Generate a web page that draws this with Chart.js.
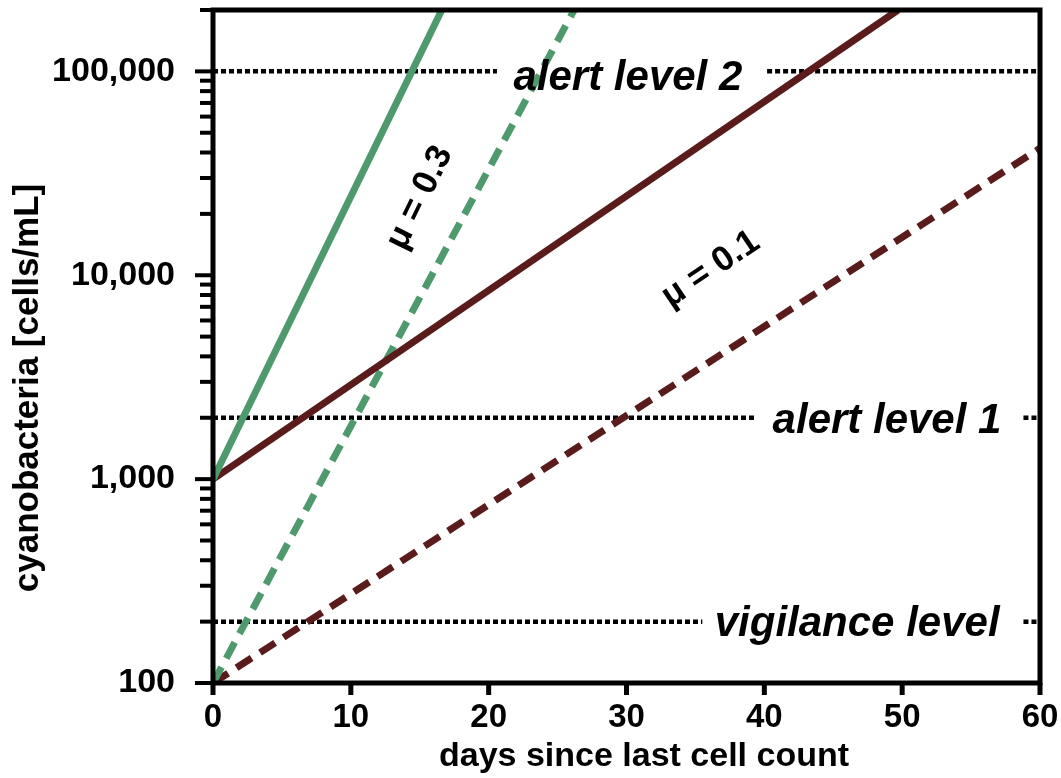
<!DOCTYPE html>
<html lang="en">
<head>
  <meta charset="UTF-8">
  <title>Cyanobacteria growth</title>
  <script src="https://cdn.jsdelivr.net/npm/chart.js"></script>
  <style>
    body { margin: 0; background: #fff; }
    #wrap { width: 1061px; height: 778px; }
  </style>
</head>
<body>
  <div id="wrap"><canvas id="myChart" width="1061" height="778"></canvas></div>

  <script>
    // line end points (days, cells/mL)
    const greenSolidDays = [0, 16.6];
    const greenSolidCells = [1000, 200000];
    const greenDashedDays = [0, 26.2];
    const greenDashedCells = [100, 200000];
    const brownSolidDays = [0, 49.7];
    const brownSolidCells = [1000, 200000];
    const brownDashedDays = [0, 60];
    const brownDashedCells = [100, 42000];

    // threshold levels and where their dotted lines run
    const levelValues = [100000, 2000, 200];
    const levelNames = ['alert level 2', 'alert level 1', 'vigilance level'];
    const levelSegments = [
      [[0, 20.6], [40.2, 60]],
      [[0, 39.3], [58.8, 60]],
      [[0, 35.5], [58.8, 60]]
    ];

    const xTickValues = [0, 10, 20, 30, 40, 50, 60];
    const yMajorTicks = [100, 1000, 10000, 100000];
    const yMin = 100, yMax = 200000;

    const muLabels = ['\u03bc = 0.3', '\u03bc = 0.1'];

    const GREEN = '#4f9a6d';
    const BROWN = '#5a1b1b';
    const FONT = '"Liberation Sans", Arial, sans-serif';

    function toPoints(xs, ys) {
      return xs.map((x, i) => ({ x: x, y: ys[i] }));
    }

    function levelPoints(value, segs) {
      const pts = [];
      segs.forEach((s, i) => {
        if (i > 0) pts.push({ x: (segs[i - 1][1] + s[0]) / 2, y: null });
        pts.push({ x: s[0], y: value });
        pts.push({ x: s[1], y: value });
      });
      return pts;
    }

    const datasets = [
      { data: toPoints(greenSolidDays, greenSolidCells), borderColor: GREEN, borderWidth: 7 },
      { data: toPoints(brownSolidDays, brownSolidCells), borderColor: BROWN, borderWidth: 7 },
      { data: toPoints(greenDashedDays, greenDashedCells), borderColor: GREEN, borderWidth: 7, borderDash: [18, 10] },
      { data: toPoints(brownDashedDays, brownDashedCells), borderColor: BROWN, borderWidth: 7, borderDash: [18, 10] }
    ];
    levelValues.forEach((v, i) => {
      datasets.push({
        data: levelPoints(v, levelSegments[i]),
        borderColor: '#000',
        borderWidth: 4.5,
        borderDash: [5, 3],
        spanGaps: false
      });
    });
    datasets.forEach(d => {
      d.pointRadius = 0;
      d.tension = 0;
      d.fill = false;
      d.borderCapStyle = 'butt';
    });

    function noPadding(s) {
      s.paddingTop = 0;
      s.paddingBottom = 0;
      s.paddingLeft = 0;
      s.paddingRight = 0;
    }

    const decorPlugin = {
      id: 'decor',
      afterDatasetsDraw(chart) {
        const ctx = chart.ctx;
        const xs = chart.scales.x, ys = chart.scales.y;
        const a = chart.chartArea;
        ctx.save();

        // level labels
        ctx.fillStyle = '#000';
        ctx.font = 'italic bold 42px ' + FONT;
        ctx.textAlign = 'left';
        ctx.textBaseline = 'alphabetic';
        const labelStart = [21.8, 40.6, 36.4];
        const labelDrop = [19, 15, 14];
        levelNames.forEach((n, i) => {
          ctx.fillText(n, xs.getPixelForValue(labelStart[i]), ys.getPixelForValue(levelValues[i]) + labelDrop[i]);
        });

        // growth rate labels
        ctx.font = 'bold 35px ' + FONT;
        ctx.textAlign = 'center';
        ctx.textBaseline = 'middle';
        const muPos = [[15.0, 24000, -64], [36.1, 10700, -34]];
        muLabels.forEach((t, i) => {
          ctx.save();
          ctx.translate(xs.getPixelForValue(muPos[i][0]), ys.getPixelForValue(muPos[i][1]));
          ctx.rotate(muPos[i][2] * Math.PI / 180);
          ctx.fillText(t, 0, 0);
          ctx.restore();
        });

        // frame
        ctx.strokeStyle = '#000';
        ctx.lineWidth = 5;
        ctx.strokeRect(a.left, a.top, a.right - a.left, a.bottom - a.top);

        // y ticks (outside, majors longer)
        ctx.lineWidth = 4;
        ys.ticks.forEach(t => {
          const py = ys.getPixelForValue(t.value);
          const len = yMajorTicks.includes(t.value) ? 18 : 13;
          ctx.beginPath();
          ctx.moveTo(a.left, py);
          ctx.lineTo(a.left - len, py);
          ctx.stroke();
        });
        // x ticks
        ctx.lineWidth = 5;
        xTickValues.forEach(v => {
          const px = xs.getPixelForValue(v);
          ctx.beginPath();
          ctx.moveTo(px, a.bottom);
          ctx.lineTo(px, a.bottom + 12);
          ctx.stroke();
        });

        // axis titles
        ctx.font = 'bold 34px ' + FONT;
        ctx.textAlign = 'center';
        ctx.textBaseline = 'alphabetic';
        ctx.fillText('days since last cell count', 644, 766);
        ctx.font = 'bold 35px ' + FONT;
        ctx.save();
        ctx.translate(38, 388);
        ctx.rotate(-Math.PI / 2);
        ctx.fillText('cyanobacteria [cells/mL]', 0, 0);
        ctx.restore();

        ctx.restore();
      }
    };

    new Chart(document.getElementById('myChart').getContext('2d'), {
      type: 'line',
      data: { datasets: datasets },
      options: {
        responsive: false,
        animation: false,
        events: [],
        layout: { padding: { top: 10, right: 21, left: 0, bottom: 0 } },
        plugins: { legend: { display: false }, tooltip: { enabled: false } },
        scales: {
          x: {
            type: 'linear',
            min: 0,
            max: 60,
            afterFit: s => { s.height = 95; noPadding(s); },
            afterBuildTicks: s => { s.ticks = xTickValues.map(v => ({ value: v })); },
            grid: { display: false, drawTicks: false },
            border: { display: false },
            ticks: {
              color: '#000',
              padding: 15,
              maxRotation: 0,
              autoSkip: false,
              font: { family: FONT, size: 33, weight: 'bold' }
            }
          },
          y: {
            type: 'logarithmic',
            min: yMin,
            max: yMax,
            afterFit: s => { s.width = 213; noPadding(s); },
            afterBuildTicks: s => {
              const list = [];
              yMajorTicks.forEach(m => {
                for (let k = 1; k <= 9; k++) {
                  if (m * k <= yMax) list.push({ value: m * k });
                }
              });
              s.ticks = list;
            },
            grid: { display: false, drawTicks: false },
            border: { display: false },
            ticks: {
              color: '#000',
              padding: 38,
              autoSkip: false,
              font: { family: FONT, size: 34, weight: 'bold' },
              callback: v => yMajorTicks.includes(v) ? v.toLocaleString('en-US') : ''
            }
          }
        }
      },
      plugins: [decorPlugin]
    });
  </script>
</body>
</html>
